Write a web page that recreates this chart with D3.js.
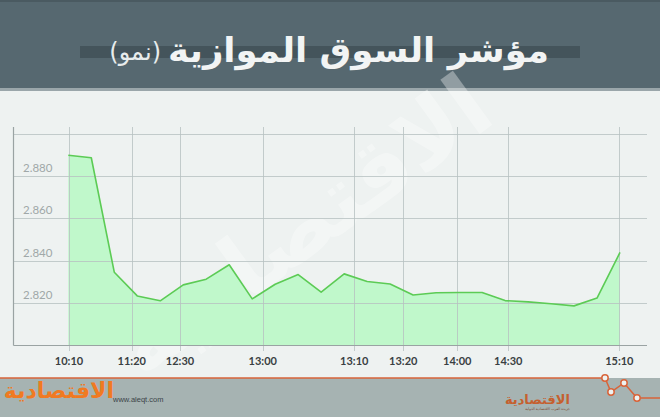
<!DOCTYPE html>
<html><head><meta charset="utf-8">
<script src="https://cdn.jsdelivr.net/npm/d3@7/dist/d3.min.js"></script>
<style>
html,body{margin:0;padding:0;background:#eef2f1;}
svg{display:block;}
</style></head>
<body>
<script>
// ---- data ----
const values = [2.8898, 2.8886, 2.8346, 2.8234, 2.8211, 2.8286, 2.8313, 2.8381, 2.8220, 2.8289,
  2.8335, 2.8252, 2.8338, 2.8302, 2.8290, 2.8238, 2.8249, 2.8250, 2.8250, 2.8212,
  2.8206, 2.8197, 2.8187, 2.8224, 2.8439];
const xTickLabels = ["10:10", "11:20", "12:30", "13:00", "13:10", "13:20", "14:00", "14:30", "15:10"];
const xTickIndex = [0.03, 2.76, 4.86, 8.46, 12.44, 14.57, 16.92, 19.14, 23.97];
const yTicks = [2.820, 2.840, 2.860, 2.880, 2.900];
const yTickLabels = ["2.820", "2.840", "2.860", "2.880", ""];
const title = "مؤشر السوق الموازية";
const subtitle = "(نمو)";

const W = 660, H = 417;
const svg = d3.select("body").append("svg").attr("width", W).attr("height", H);

// background
svg.append("rect").attr("width", W).attr("height", H).attr("fill", "#eef2f1");

// header
svg.append("rect").attr("x", 0).attr("y", 0).attr("width", W).attr("height", 88).attr("fill", "#566870");
svg.append("rect").attr("x", 0).attr("y", 0).attr("width", W).attr("height", 2).attr("fill", "#4a5a61");
svg.append("rect").attr("x", 0).attr("y", 88).attr("width", W).attr("height", 3).attr("fill", "#9aa6aa");
svg.append("rect").attr("x", 80).attr("y", 46).attr("width", 500).attr("height", 12).attr("fill", "#44545b");
const tt = svg.append("text").attr("x", 549).attr("y", 62).attr("text-anchor", "end")
  .attr("font-family", "DejaVu Sans").attr("font-weight", "bold").attr("font-size", 34)
  .attr("fill", "#f2f4f4").text(title);
const tw = tt.node().getComputedTextLength();
if (tw > 0) tt.attr("textLength", 381).attr("lengthAdjust", "spacingAndGlyphs");
svg.append("text").attr("x", 161).attr("y", 60).attr("text-anchor", "end")
  .attr("font-family", "DejaVu Sans").attr("font-size", 24)
  .attr("fill", "#e8ecec").text(subtitle);

// scales
const x = d3.scaleLinear().domain([0, values.length - 1]).range([68.3, 620]);
const y = d3.scaleLinear().domain([2.8, 2.9]).range([345.5, 133.6]);
const xLeft = 13.5, xRight = 647;

const g = svg.append("g");

// watermark
g.append("text").attr("transform", "translate(320,250) rotate(-36)")
  .attr("text-anchor", "middle").attr("font-family", "DejaVu Sans").attr("font-weight", "bold")
  .attr("font-size", 88).attr("fill", "#ffffff").attr("opacity", 0.35).text("الاقتصادية");

// area
const area = d3.area().x((d, i) => x(i)).y0(y(2.8)).y1(d => y(d));
g.append("path").datum(values).attr("d", area).attr("fill", "#bdf8c8").attr("opacity", 0.95);

// horizontal grid
g.selectAll("line.hg").data(yTicks).join("line")
  .attr("x1", xLeft).attr("x2", xRight)
  .attr("y1", d => Math.round(y(d)) + 0.5).attr("y2", d => Math.round(y(d)) + 0.5)
  .attr("stroke", "#b8c2c2").attr("stroke-width", 1).attr("opacity", 0.8);

// vertical grid
g.selectAll("line.vg").data(xTickIndex).join("line")
  .attr("x1", d => Math.round(x(d)) + 0.5).attr("x2", d => Math.round(x(d)) + 0.5)
  .attr("y1", 127).attr("y2", 351)
  .attr("stroke", "#b8c2c2").attr("stroke-width", 1).attr("opacity", 0.8);

// line
const line = d3.line().x((d, i) => x(i)).y(d => y(d));
g.append("path").datum(values).attr("d", line).attr("fill", "none")
  .attr("stroke", "#5ccb55").attr("stroke-width", 1.6).attr("stroke-linejoin", "round");

// axes lines
g.append("line").attr("x1", xLeft).attr("x2", xLeft).attr("y1", 127).attr("y2", 345.5)
  .attr("stroke", "#9aa3a3").attr("stroke-width", 1.2);
g.append("line").attr("x1", xLeft).attr("x2", xRight).attr("y1", 345.5).attr("y2", 345.5)
  .attr("stroke", "#9aa3a3").attr("stroke-width", 1.2);

// y labels
g.selectAll("text.yl").data(yTicks).join("text")
  .attr("x", 23).attr("y", d => y(d) - 4)
  .attr("font-family", "Lato").attr("font-size", 11.5).attr("fill", "#a0a8a8")
  .text((d, i) => yTickLabels[i]);

// x labels
g.selectAll("text.xl").data(xTickIndex).join("text")
  .attr("x", d => x(d)).attr("y", 365)
  .attr("text-anchor", "middle").attr("font-family", "Lato").attr("font-weight", "bold")
  .attr("font-size", 11).attr("fill", "#3a3f42")
  .text((d, i) => xTickLabels[i]);

// footer
svg.append("rect").attr("x", 0).attr("y", 378).attr("width", W).attr("height", H - 378).attr("fill", "#a6b3b2");
svg.append("path").attr("d", "M0,378 L605,378 L611,392 L624,383 L637,398 L660,398")
  .attr("fill", "none").attr("stroke", "#d8643a").attr("stroke-width", 1.5);
[[605, 378], [611, 392], [624, 383], [637, 398]].forEach(p => {
  svg.append("circle").attr("cx", p[0]).attr("cy", p[1]).attr("r", 3.2)
    .attr("fill", "#eef2f1").attr("stroke", "#d8643a").attr("stroke-width", 1.5);
});
svg.append("text").attr("x", 114).attr("y", 398).attr("text-anchor", "end")
  .attr("font-family", "DejaVu Sans").attr("font-weight", "bold").attr("font-size", 22)
  .attr("fill", "#f07a22").text("الاقتصادية");
svg.append("text").attr("x", 113).attr("y", 402)
  .attr("font-family", "Liberation Sans").attr("font-size", 7.5).attr("fill", "#3b4348")
  .text("www.aleqt.com");
svg.append("text").attr("x", 570).attr("y", 404).attr("text-anchor", "end")
  .attr("font-family", "DejaVu Sans").attr("font-weight", "bold").attr("font-size", 13)
  .attr("fill", "#c5602f").text("الاقتصادية");
svg.append("text").attr("x", 570).attr("y", 410).attr("text-anchor", "end")
  .attr("font-family", "DejaVu Sans").attr("font-size", 3.5)
  .attr("fill", "#7a4a30").text("جريدة العرب الاقتصادية الدولية");
</script>
</body></html>
